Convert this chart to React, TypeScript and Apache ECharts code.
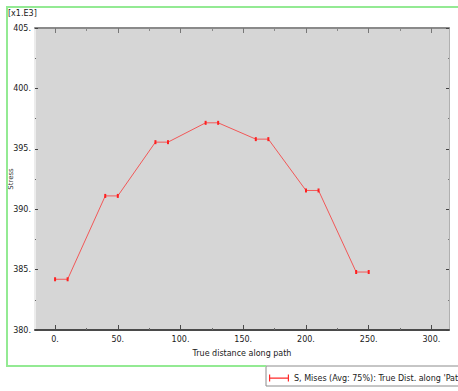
import React, { useEffect, useRef } from "react";
import * as echarts from "echarts";

// Path results: true distance along the path vs. von Mises stress (x1.E3)
const distance = [0, 10, 40, 50, 80, 90, 120, 130, 160, 170, 200, 210, 240, 250];
const stress = [384.2, 384.2, 391.1, 391.1, 395.55, 395.55, 397.15, 397.15, 395.8, 395.8, 391.55, 391.55, 384.8, 384.8];
const xMajorTicks = [0, 50, 100, 150, 200, 250, 300];
const xMinorTicks = [25, 75, 125, 175, 225, 275];
const seriesName = "S, Mises (Avg: 75%): True Dist. along 'Path-3'";
const scaleNote = "[x1.E3]";
const xTitle = "True distance along path";
const yTitle = "Stress";

const FONT = '"DejaVu Sans", sans-serif';
const FS = 8;
const X_MIN = -16;
const X_MAX = 314;
const FRAME = "#93ea93";

// light green viewport frame edges (top, left, bottom up to the legend box)
const frameEdges: React.CSSProperties[] = [
  { left: 6, top: 6, width: 452, height: 2 },
  { left: 6, top: 6, width: 2, height: 361 },
  { left: 6, top: 365, width: 260, height: 2 },
];

export default function App() {
  const ref = useRef<HTMLDivElement>(null);

  useEffect(() => {
    if (!ref.current) return;
    const chart = echarts.init(ref.current, undefined, { renderer: "svg" });
    const dot = (v: number) => `${v}.`;

    const xBase = {
      type: "value",
      min: X_MIN,
      max: X_MAX,
      splitLine: { show: false },
    };
    const yBase = {
      type: "value",
      min: 380,
      max: 405,
      interval: 5,
      splitLine: { show: false },
      minorSplitLine: { show: false },
    };

    chart.setOption({
      animation: false,
      backgroundColor: "#ffffff",
      textStyle: { fontFamily: FONT },
      grid: {
        left: 35,
        right: 9,
        top: 28,
        bottom: 61,
        containLabel: false,
        outerBoundsMode: "none",
        show: true,
        backgroundColor: "#d6d6d6",
        borderWidth: 0,
      },
      legend: {
        data: [seriesName],
        left: 266,
        top: 366,
        padding: [8, 8, 4, 3],
        backgroundColor: "#ffffff",
        borderColor: "#8c8c8c",
        borderWidth: 1,
        itemWidth: 20,
        itemHeight: 7,
        icon: "path://M0,0h1.2v7h-1.2z M1,3h18v1.2h-18z M18.8,0h1.2v7h-1.2z",
        itemStyle: { color: "#ff2a2a" },
        textStyle: { fontSize: FS, color: "#1a1a1a", fontFamily: FONT },
      },
      xAxis: [
        {
          ...xBase,
          position: "bottom",
          name: xTitle,
          nameLocation: "middle",
          nameGap: 19,
          nameMoveOverlap: false,
          nameTextStyle: { fontSize: FS, color: "#1a1a1a", fontFamily: FONT },
          axisLine: { show: true, onZero: false, lineStyle: { color: "#4a4a4a", width: 2 } },
          axisTick: { show: true, inside: true, length: 5, customValues: xMajorTicks, lineStyle: { color: "#4a4a4a", width: 1 } },
          axisLabel: { show: true, customValues: xMajorTicks, formatter: dot, fontSize: FS, color: "#1a1a1a", margin: 5, fontFamily: FONT },
        },
        {
          ...xBase,
          position: "bottom",
          axisLine: { show: false },
          axisTick: { show: true, inside: true, length: 2, customValues: xMinorTicks, lineStyle: { color: "#6a6a6a", width: 1 } },
          axisLabel: { show: false },
        },
        {
          ...xBase,
          position: "top",
          axisLine: { show: true, onZero: false, lineStyle: { color: "#8a8a8a", width: 2 } },
          axisTick: { show: true, inside: true, length: 5, customValues: xMajorTicks, lineStyle: { color: "#777777", width: 1 } },
          axisLabel: { show: false },
        },
        {
          ...xBase,
          position: "top",
          axisLine: { show: false },
          axisTick: { show: true, inside: true, length: 3, customValues: xMinorTicks, lineStyle: { color: "#8a8a8a", width: 1 } },
          axisLabel: { show: false },
        },
      ],
      yAxis: [
        {
          ...yBase,
          position: "left",
          name: yTitle,
          nameLocation: "middle",
          nameGap: 21,
          nameRotate: 90,
          nameMoveOverlap: false,
          nameTextStyle: { fontSize: 7, color: "#333333", fontFamily: FONT },
          axisLine: { show: true, onZero: false, lineStyle: { color: "#ececec", width: 2 } },
          axisTick: { show: true, inside: true, length: 3, lineStyle: { color: "#444444", width: 1 } },
          minorTick: { show: true, splitNumber: 2, length: 1, lineStyle: { color: "#666666", width: 1 } },
          axisLabel: { show: true, formatter: dot, fontSize: FS, color: "#1a1a1a", margin: 4, fontFamily: FONT },
        },
        {
          ...yBase,
          position: "right",
          axisLine: { show: true, onZero: false, lineStyle: { color: "#b0b0b0", width: 1 } },
          axisTick: { show: true, inside: true, length: 3, lineStyle: { color: "#444444", width: 1 } },
          minorTick: { show: true, splitNumber: 2, length: 1, lineStyle: { color: "#777777", width: 1 } },
          axisLabel: { show: false },
        },
      ],
      graphic: [
        {
          type: "text",
          left: 8,
          top: 9,
          z: 5,
          style: { text: scaleNote, fontSize: FS, fill: "#1a1a1a", fontFamily: FONT },
        },
      ],
      series: [
        {
          name: seriesName,
          type: "line",
          xAxisIndex: 0,
          yAxisIndex: 0,
          data: distance.map((d, i) => [d, stress[i]]),
          symbol: "rect",
          symbolSize: [2, 4],
          showSymbol: true,
          itemStyle: { color: "#ff2020" },
          lineStyle: { color: "#f25858", width: 1 },
          emphasis: { disabled: true },
        },
      ],
    });

    return () => chart.dispose();
  }, []);

  return (
    <div style={{ position: "fixed", left: 0, top: 0, width: 458, height: 391, overflow: "hidden" }}>
      <div ref={ref} style={{ position: "absolute", left: 0, top: 0, width: 458, height: 391 }} />
      {frameEdges.map((s, i) => (
        <div
          key={i}
          style={{ position: "absolute", background: FRAME, pointerEvents: "none", ...s }}
        />
      ))}
    </div>
  );
}
